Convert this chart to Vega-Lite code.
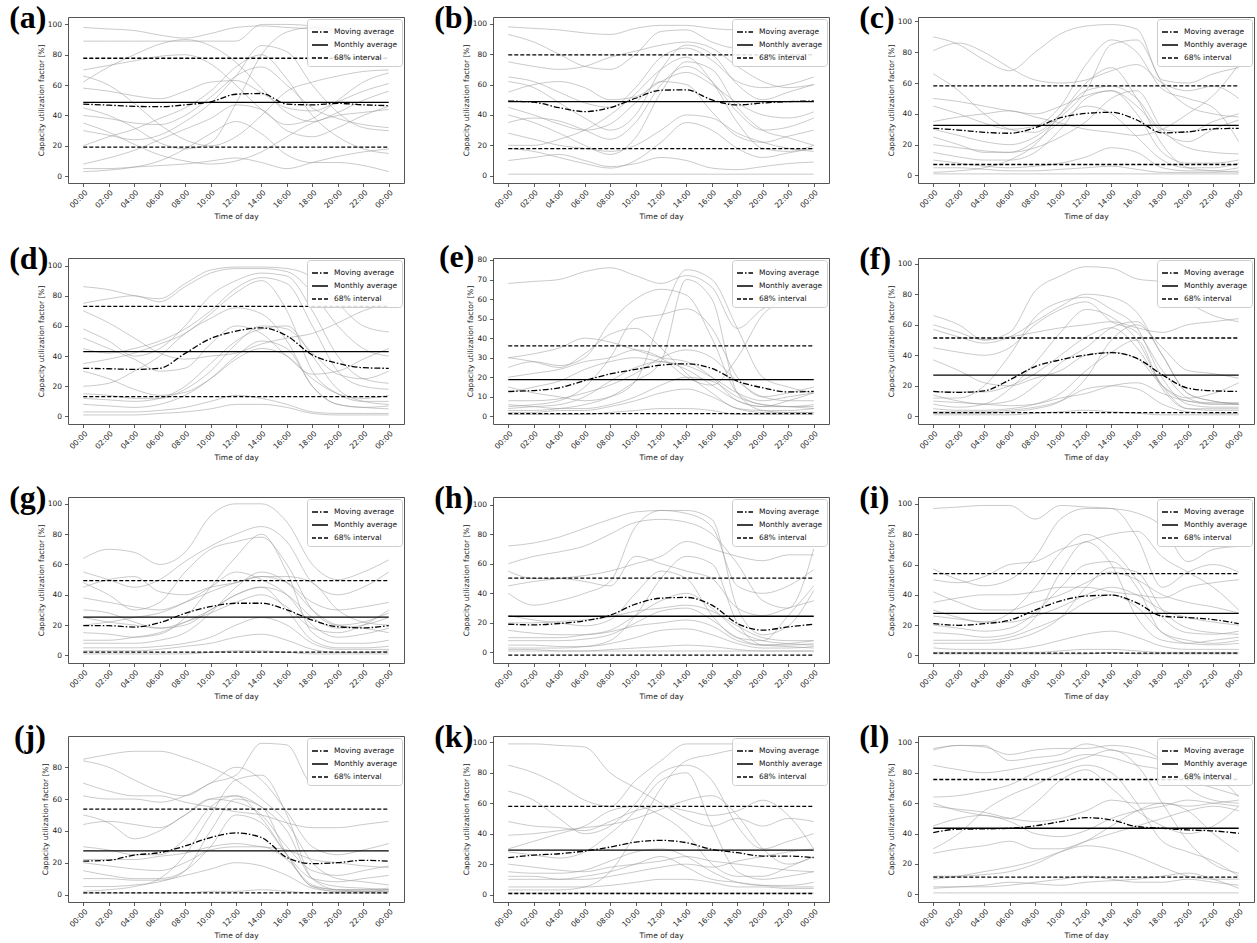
{
"$schema":"https://vega.github.io/schema/vega-lite/v6.json",
"background":"white",
"padding":{"left":8,"top":1,"right":0,"bottom":0},
"data":{"values":[
{"p":"a","k":"A","00":98,"02":97,"04":96,"06":93,"08":91,"10":94,"12":98,"14":99,"16":98,"18":97,"20":96,"22":96,"24":95},
{"p":"a","k":"B","00":89,"02":89,"04":89,"06":89,"08":89,"10":89,"12":89,"14":100,"16":100,"18":99,"20":97,"22":97,"24":97},
{"p":"a","k":"C","00":62,"02":72,"04":80,"06":87,"08":90,"10":86,"12":75,"14":58,"16":42,"18":36,"20":42,"22":50,"24":56},
{"p":"a","k":"D","00":45,"02":40,"04":32,"06":22,"08":18,"10":22,"12":48,"14":80,"16":95,"18":98,"20":96,"22":94,"24":90},
{"p":"a","k":"E","00":30,"02":27,"04":24,"06":27,"08":36,"10":48,"12":66,"14":86,"16":82,"18":60,"20":42,"22":32,"24":30},
{"p":"a","k":"F","00":8,"02":12,"04":17,"06":24,"08":31,"10":38,"12":47,"14":44,"16":30,"18":26,"20":32,"22":40,"24":46},
{"p":"a","k":"G","00":5,"02":5,"04":6,"06":7,"08":8,"10":10,"12":12,"14":9,"16":5,"18":9,"20":13,"22":16,"24":18},
{"p":"a","k":"H","00":66,"02":60,"04":48,"06":34,"08":24,"10":20,"12":26,"14":40,"16":56,"18":62,"20":66,"22":69,"24":70},
{"p":"a","k":"I","00":3,"02":4,"04":6,"06":10,"08":18,"10":28,"12":36,"14":28,"16":14,"18":9,"20":9,"22":7,"24":3},
{"p":"a","k":"J","00":40,"02":38,"04":35,"06":34,"08":40,"10":52,"12":66,"14":72,"16":60,"18":45,"20":38,"22":34,"24":32},
{"p":"a","k":"K","00":20,"02":26,"04":31,"06":38,"08":45,"10":56,"12":72,"14":80,"16":64,"18":40,"20":26,"22":18,"24":15},
{"p":"a","k":"L","00":58,"02":56,"04":53,"06":51,"08":56,"10":62,"12":63,"14":55,"16":45,"18":43,"20":49,"22":56,"24":61},
{"p":"a","k":"M","00":35,"02":29,"04":21,"06":14,"08":10,"10":8,"12":10,"14":16,"16":26,"18":35,"20":40,"22":42,"24":44},
{"p":"a","k":"N","00":70,"02":73,"04":76,"06":79,"08":80,"10":74,"12":60,"14":44,"16":34,"18":38,"20":50,"22":62,"24":68},
{"p":"a","k":"m","00":47.5,"02":46.8,"04":46,"06":45.8,"08":47,"10":49,"12":54,"14":54.5,"16":47.5,"18":47,"20":48,"22":47,"24":46.5},
{"p":"a","k":"avg","00":48.7},{"p":"a","k":"lo","00":19.2},{"p":"a","k":"hi","00":77.7},
{"p":"b","k":"A","00":98,"02":97,"04":96,"06":94,"08":93,"10":97,"12":99,"14":99,"16":97,"18":96,"20":97,"22":98,"24":99},
{"p":"b","k":"B","00":93,"02":88,"04":80,"06":72,"08":70,"10":80,"12":95,"14":96,"16":88,"18":84,"20":86,"22":88,"24":90},
{"p":"b","k":"C","00":62,"02":58,"04":48,"06":38,"08":30,"10":40,"12":70,"14":86,"16":80,"18":60,"20":50,"22":55,"24":60},
{"p":"b","k":"D","00":40,"02":35,"04":28,"06":20,"08":14,"10":25,"12":55,"14":75,"16":70,"18":45,"20":30,"22":25,"24":20},
{"p":"b","k":"E","00":75,"02":72,"04":70,"06":72,"08":78,"10":82,"12":86,"14":88,"16":84,"18":72,"20":62,"22":58,"24":60},
{"p":"b","k":"F","00":28,"02":24,"04":20,"06":18,"08":16,"10":20,"12":30,"14":40,"16":38,"18":28,"20":22,"22":18,"24":16},
{"p":"b","k":"G","00":1,"02":1,"04":1,"06":1,"08":1,"10":1,"12":1,"14":1,"16":1,"18":1,"20":1,"22":1,"24":1},
{"p":"b","k":"H","00":10,"02":12,"04":14,"06":10,"08":6,"10":8,"12":12,"14":10,"16":5,"18":4,"20":6,"22":8,"24":9},
{"p":"b","k":"I","00":55,"02":60,"04":62,"06":58,"08":50,"10":52,"12":62,"14":68,"16":60,"18":48,"20":40,"22":38,"24":42},
{"p":"b","k":"J","00":35,"02":38,"04":36,"06":30,"08":24,"10":35,"12":60,"14":72,"16":62,"18":42,"20":30,"22":32,"24":38},
{"p":"b","k":"K","00":18,"02":16,"04":12,"06":8,"08":5,"10":10,"12":22,"14":35,"16":30,"18":18,"20":12,"22":15,"24":18},
{"p":"b","k":"L","00":65,"02":62,"04":55,"06":48,"08":45,"10":58,"12":78,"14":84,"16":76,"18":62,"20":58,"22":60,"24":65},
{"p":"b","k":"M","00":45,"02":40,"04":34,"06":30,"08":34,"10":48,"12":62,"14":60,"16":42,"18":26,"20":22,"22":26,"24":30},
{"p":"b","k":"N","00":20,"02":20,"04":24,"06":30,"08":40,"10":54,"12":70,"14":78,"16":62,"18":35,"20":18,"22":16,"24":20},
{"p":"b","k":"m","00":49.2,"02":48.4,"04":44.8,"06":42.2,"08":44.8,"10":51,"12":56.3,"14":56.5,"16":49.9,"18":46.6,"20":47.9,"22":48.8,"24":49.2},
{"p":"b","k":"avg","00":48.8},{"p":"b","k":"lo","00":17.8},{"p":"b","k":"hi","00":79.6},
{"p":"c","k":"A","00":90,"02":85,"04":75,"06":68,"08":80,"10":92,"12":97,"14":98,"16":95,"18":62,"20":60,"22":66,"24":70},
{"p":"c","k":"B","00":81,"02":86,"04":80,"06":70,"08":62,"10":60,"12":62,"14":68,"16":72,"18":60,"20":55,"22":58,"24":50},
{"p":"c","k":"C","00":66,"02":55,"04":40,"06":30,"08":28,"10":40,"12":55,"14":58,"16":50,"18":30,"20":28,"22":35,"24":40},
{"p":"c","k":"D","00":50,"02":48,"04":45,"06":42,"08":40,"10":45,"12":52,"14":55,"16":45,"18":28,"20":22,"22":30,"24":36},
{"p":"c","k":"E","00":30,"02":26,"04":22,"06":20,"08":25,"10":38,"12":55,"14":85,"16":88,"18":60,"20":45,"22":40,"24":38},
{"p":"c","k":"F","00":20,"02":18,"04":16,"06":15,"08":18,"10":25,"12":35,"14":50,"16":55,"18":30,"20":18,"22":15,"24":14},
{"p":"c","k":"G","00":10,"02":8,"04":6,"06":5,"08":6,"10":8,"12":12,"14":18,"16":15,"18":5,"20":3,"22":3,"24":5},
{"p":"c","k":"H","00":5,"02":5,"04":4,"06":3,"08":3,"10":4,"12":5,"14":6,"16":4,"18":2,"20":2,"22":2,"24":3},
{"p":"c","k":"I","00":1,"02":1,"04":1,"06":1,"08":1,"10":1,"12":1,"14":1,"16":1,"18":1,"20":1,"22":1,"24":1},
{"p":"c","k":"J","00":15,"02":12,"04":10,"06":10,"08":15,"10":30,"12":50,"14":55,"16":40,"18":15,"20":8,"22":8,"24":10},
{"p":"c","k":"K","00":25,"02":20,"04":15,"06":15,"08":22,"10":35,"12":45,"14":40,"16":25,"18":10,"20":5,"22":5,"24":8},
{"p":"c","k":"L","00":45,"02":40,"04":34,"06":30,"08":32,"10":45,"12":72,"14":88,"16":80,"18":56,"20":50,"22":44,"24":22},
{"p":"c","k":"M","00":2,"02":3,"04":5,"06":10,"08":20,"10":40,"12":60,"14":70,"16":50,"18":20,"20":5,"22":3,"24":2},
{"p":"c","k":"N","00":35,"02":38,"04":40,"06":42,"08":38,"10":34,"12":30,"14":28,"16":26,"18":30,"20":40,"22":52,"24":72},
{"p":"c","k":"m","00":30.6,"02":29.5,"04":28,"06":27.4,"08":31,"10":37.5,"12":40.3,"14":41,"16":36,"18":27.6,"20":28.4,"22":30.2,"24":30.6},
{"p":"c","k":"avg","00":32.5},{"p":"c","k":"lo","00":7.1},{"p":"c","k":"hi","00":58.2},
{"p":"d","k":"A","00":86,"02":84,"04":80,"06":78,"08":88,"10":97,"12":99,"14":99,"16":98,"18":92,"20":75,"22":60,"24":56},
{"p":"d","k":"B","00":75,"02":78,"04":80,"06":76,"08":86,"10":95,"12":98,"14":98,"16":96,"18":82,"20":60,"22":45,"24":40},
{"p":"d","k":"C","00":58,"02":50,"04":40,"06":45,"08":60,"10":80,"12":90,"14":95,"16":93,"18":70,"20":40,"22":25,"24":22},
{"p":"d","k":"D","00":45,"02":42,"04":45,"06":50,"08":58,"10":70,"12":85,"14":92,"16":88,"18":60,"20":30,"22":20,"24":18},
{"p":"d","k":"E","00":35,"02":38,"04":42,"06":48,"08":55,"10":68,"12":82,"14":90,"16":70,"18":30,"20":15,"22":10,"24":10},
{"p":"d","k":"F","00":20,"02":22,"04":30,"06":40,"08":55,"10":65,"12":72,"14":68,"16":50,"18":20,"20":8,"22":6,"24":5},
{"p":"d","k":"G","00":12,"02":11,"04":10,"06":12,"08":20,"10":35,"12":50,"14":58,"16":60,"18":40,"20":18,"22":10,"24":8},
{"p":"d","k":"H","00":3,"02":3,"04":3,"06":4,"08":6,"10":10,"12":14,"14":12,"16":8,"18":3,"20":2,"22":2,"24":2},
{"p":"d","k":"I","00":1,"02":1,"04":1,"06":2,"08":3,"10":5,"12":8,"14":8,"16":6,"18":2,"20":1,"22":1,"24":1},
{"p":"d","k":"J","00":70,"02":62,"04":52,"06":42,"08":38,"10":40,"12":42,"14":48,"16":52,"18":55,"20":62,"22":70,"24":75},
{"p":"d","k":"K","00":30,"02":25,"04":18,"06":14,"08":16,"10":25,"12":38,"14":45,"16":40,"18":25,"20":15,"22":12,"24":14},
{"p":"d","k":"L","00":8,"02":7,"04":6,"06":8,"08":14,"10":25,"12":40,"14":50,"16":45,"18":20,"20":8,"22":6,"24":7},
{"p":"d","k":"M","00":52,"02":45,"04":38,"06":30,"08":32,"10":48,"12":60,"14":55,"16":40,"18":28,"20":30,"22":38,"24":45},
{"p":"d","k":"N","00":15,"02":14,"04":12,"06":12,"08":18,"10":30,"12":48,"14":60,"16":58,"18":42,"20":28,"22":25,"24":30},
{"p":"d","k":"m","00":31.9,"02":31.6,"04":31.2,"06":31.9,"08":41.8,"10":51.6,"12":56.5,"14":58.7,"16":53.4,"18":40.7,"20":35.2,"22":32.3,"24":31.9},
{"p":"d","k":"avg","00":42.9},{"p":"d","k":"lo","00":13.2},{"p":"d","k":"hi","00":73},
{"p":"e","k":"A","00":68,"02":69,"04":70,"06":74,"08":76,"10":72,"12":68,"14":72,"16":66,"18":45,"20":55,"22":60,"24":66},
{"p":"e","k":"B","00":30,"02":32,"04":35,"06":40,"08":38,"10":34,"12":30,"14":28,"16":20,"18":8,"20":5,"22":8,"24":12},
{"p":"e","k":"C","00":25,"02":28,"04":26,"06":30,"08":48,"10":60,"12":65,"14":62,"16":40,"18":12,"20":6,"22":5,"24":4},
{"p":"e","k":"D","00":5,"02":6,"04":8,"06":15,"08":30,"10":50,"12":52,"14":55,"16":45,"18":20,"20":10,"22":12,"24":15},
{"p":"e","k":"E","00":12,"02":15,"04":18,"06":24,"08":28,"10":30,"12":28,"14":26,"16":20,"18":12,"20":8,"22":10,"24":12},
{"p":"e","k":"F","00":3,"02":3,"04":4,"06":6,"08":10,"10":18,"12":28,"14":70,"16":60,"18":12,"20":3,"22":2,"24":2},
{"p":"e","k":"G","00":2,"02":2,"04":3,"06":3,"08":5,"10":8,"12":12,"14":14,"16":10,"18":4,"20":2,"22":2,"24":2},
{"p":"e","k":"H","00":1,"02":1,"04":1,"06":1,"08":2,"10":3,"12":4,"14":4,"16":3,"18":1,"20":1,"22":1,"24":1},
{"p":"e","k":"I","00":8,"02":8,"04":9,"06":12,"08":16,"10":22,"12":30,"14":34,"16":30,"18":18,"20":10,"22":8,"24":8},
{"p":"e","k":"J","00":30,"02":28,"04":25,"06":32,"08":42,"10":45,"12":35,"14":22,"16":12,"18":4,"20":3,"22":3,"24":4},
{"p":"e","k":"K","00":15,"02":12,"04":10,"06":8,"08":10,"10":18,"12":50,"14":75,"16":70,"18":45,"20":20,"22":15,"24":12},
{"p":"e","k":"L","00":4,"02":5,"04":6,"06":10,"08":18,"10":25,"12":28,"14":24,"16":16,"18":8,"20":5,"22":5,"24":6},
{"p":"e","k":"M","00":20,"02":22,"04":24,"06":28,"08":30,"10":34,"12":30,"14":20,"16":16,"18":30,"20":52,"22":60,"24":66},
{"p":"e","k":"N","00":6,"02":5,"04":4,"06":4,"08":6,"10":10,"12":16,"14":20,"16":18,"18":10,"20":6,"22":5,"24":5},
{"p":"e","k":"m","00":12.8,"02":13.2,"04":14.6,"06":18.3,"08":21.7,"10":24,"12":26.2,"14":26.9,"16":24.5,"18":18,"20":14.6,"22":12.5,"24":12.8},
{"p":"e","k":"avg","00":18.8},{"p":"e","k":"lo","00":1.4},{"p":"e","k":"hi","00":36.1},
{"p":"f","k":"A","00":66,"02":60,"04":50,"06":55,"08":82,"10":92,"12":98,"14":97,"16":90,"18":88,"20":75,"22":66,"24":62},
{"p":"f","k":"B","00":57,"02":52,"04":48,"06":52,"08":62,"10":72,"12":80,"14":78,"16":68,"18":40,"20":15,"22":10,"24":8},
{"p":"f","k":"C","00":45,"02":42,"04":40,"06":45,"08":60,"10":70,"12":75,"14":62,"16":55,"18":30,"20":12,"22":8,"24":8},
{"p":"f","k":"D","00":12,"02":12,"04":20,"06":40,"08":65,"10":75,"12":78,"14":70,"16":58,"18":25,"20":8,"22":6,"24":6},
{"p":"f","k":"E","00":8,"02":6,"04":8,"06":18,"08":35,"10":55,"12":70,"14":65,"16":50,"18":20,"20":5,"22":4,"24":4},
{"p":"f","k":"F","00":2,"02":2,"04":2,"06":3,"08":5,"10":10,"12":25,"14":50,"16":60,"18":45,"20":30,"22":28,"24":25},
{"p":"f","k":"G","00":3,"02":3,"04":3,"06":4,"08":6,"10":10,"12":18,"14":20,"16":18,"18":8,"20":3,"22":2,"24":2},
{"p":"f","k":"H","00":1,"02":1,"04":1,"06":1,"08":2,"10":3,"12":4,"14":3,"16":2,"18":1,"20":1,"22":1,"24":1},
{"p":"f","k":"I","00":14,"02":10,"04":8,"06":10,"08":20,"10":35,"12":45,"14":58,"16":62,"18":40,"20":15,"22":10,"24":8},
{"p":"f","k":"J","00":60,"02":55,"04":50,"06":52,"08":55,"10":58,"12":60,"14":62,"16":58,"18":55,"20":60,"22":62,"24":64},
{"p":"f","k":"K","00":5,"02":4,"04":4,"06":5,"08":8,"10":15,"12":30,"14":42,"16":50,"18":18,"20":5,"22":5,"24":5},
{"p":"f","k":"L","00":10,"02":9,"04":8,"06":7,"08":8,"10":12,"12":15,"14":20,"16":22,"18":15,"20":10,"22":9,"24":9},
{"p":"f","k":"M","00":37,"02":30,"04":22,"06":20,"08":25,"10":30,"12":40,"14":42,"16":38,"18":20,"20":12,"22":15,"24":22},
{"p":"f","k":"N","00":16,"02":16,"04":16,"06":20,"08":28,"10":40,"12":52,"14":58,"16":45,"18":20,"20":10,"22":8,"24":8},
{"p":"f","k":"m","00":16.3,"02":15.7,"04":16.7,"06":23.9,"08":32.6,"10":37,"12":40.2,"14":41.7,"16":38,"18":27.2,"20":18.5,"22":16.7,"24":16.3},
{"p":"f","k":"avg","00":27},{"p":"f","k":"lo","00":2.4},{"p":"f","k":"hi","00":51.3},
{"p":"g","k":"A","00":64,"02":70,"04":68,"06":60,"08":68,"10":92,"12":100,"14":100,"16":88,"18":60,"20":50,"22":55,"24":63},
{"p":"g","k":"B","00":55,"02":50,"04":45,"06":50,"08":62,"10":72,"12":80,"14":85,"16":75,"18":48,"20":40,"22":45,"24":55},
{"p":"g","k":"C","00":48,"02":40,"04":30,"06":35,"08":55,"10":70,"12":75,"14":78,"16":60,"18":30,"20":20,"22":22,"24":28},
{"p":"g","k":"D","00":38,"02":35,"04":32,"06":30,"08":35,"10":42,"12":48,"14":52,"16":48,"18":35,"20":30,"22":32,"24":35},
{"p":"g","k":"E","00":20,"02":22,"04":25,"06":28,"08":35,"10":45,"12":55,"14":50,"16":40,"18":20,"20":12,"22":14,"24":18},
{"p":"g","k":"F","00":10,"02":10,"04":12,"06":15,"08":22,"10":30,"12":40,"14":45,"16":30,"18":10,"20":5,"22":5,"24":6},
{"p":"g","k":"G","00":5,"02":5,"04":5,"06":6,"08":8,"10":12,"12":20,"14":25,"16":20,"18":8,"20":4,"22":4,"24":4},
{"p":"g","k":"H","00":1,"02":1,"04":1,"06":1,"08":1,"10":2,"12":3,"14":3,"16":2,"18":1,"20":1,"22":1,"24":1},
{"p":"g","k":"I","00":30,"02":28,"04":22,"06":18,"08":20,"10":30,"12":40,"14":45,"16":40,"18":25,"20":18,"22":20,"24":25},
{"p":"g","k":"J","00":15,"02":14,"04":12,"06":14,"08":25,"10":45,"12":65,"14":80,"16":55,"18":15,"20":8,"22":8,"24":10},
{"p":"g","k":"K","00":45,"02":50,"04":52,"06":42,"08":40,"10":45,"12":48,"14":52,"16":52,"18":48,"20":30,"22":22,"24":20},
{"p":"g","k":"L","00":3,"02":3,"04":3,"06":4,"08":6,"10":8,"12":12,"14":14,"16":10,"18":4,"20":2,"22":2,"24":3},
{"p":"g","k":"M","00":25,"02":22,"04":20,"06":18,"08":22,"10":28,"12":35,"14":40,"16":32,"18":18,"20":15,"22":20,"24":30},
{"p":"g","k":"N","00":8,"02":8,"04":8,"06":10,"08":15,"10":28,"12":45,"14":55,"16":48,"18":30,"20":20,"22":18,"24":15},
{"p":"g","k":"m","00":19.6,"02":19.6,"04":18.7,"06":21.6,"08":27.8,"10":32.2,"12":34.4,"14":34.4,"16":30,"18":23.3,"20":18.9,"22":18.2,"24":19.6},
{"p":"g","k":"avg","00":25.3},{"p":"g","k":"lo","00":2.2},{"p":"g","k":"hi","00":49.3},
{"p":"h","k":"A","00":72,"02":74,"04":78,"06":84,"08":90,"10":95,"12":96,"14":94,"16":85,"18":45,"20":40,"22":45,"24":56},
{"p":"h","k":"B","00":60,"02":65,"04":68,"06":72,"08":80,"10":88,"12":90,"14":88,"16":80,"18":60,"20":35,"22":30,"24":70},
{"p":"h","k":"C","00":45,"02":48,"04":50,"06":52,"08":55,"10":60,"12":65,"14":75,"16":70,"18":65,"20":62,"22":66,"24":66},
{"p":"h","k":"D","00":40,"02":32,"04":35,"06":40,"08":48,"10":85,"12":96,"14":96,"16":90,"18":30,"20":12,"22":18,"24":42},
{"p":"h","k":"E","00":25,"02":22,"04":20,"06":18,"08":22,"10":40,"12":55,"14":50,"16":25,"18":10,"20":8,"22":25,"24":45},
{"p":"h","k":"F","00":15,"02":13,"04":12,"06":12,"08":14,"10":18,"12":20,"14":22,"16":18,"18":8,"20":5,"22":6,"24":8},
{"p":"h","k":"G","00":5,"02":5,"04":4,"06":4,"08":6,"10":10,"12":15,"14":16,"16":12,"18":6,"20":3,"22":3,"24":4},
{"p":"h","k":"H","00":2,"02":2,"04":1,"06":1,"08":2,"10":3,"12":4,"14":5,"16":4,"18":2,"20":1,"22":1,"24":1},
{"p":"h","k":"I","00":1,"02":1,"04":1,"06":1,"08":1,"10":1,"12":1,"14":1,"16":1,"18":1,"20":1,"22":1,"24":1},
{"p":"h","k":"J","00":55,"02":50,"04":50,"06":48,"08":45,"10":65,"12":60,"14":55,"16":50,"18":30,"20":25,"22":30,"24":35},
{"p":"h","k":"K","00":10,"02":10,"04":10,"06":12,"08":15,"10":25,"12":35,"14":40,"16":30,"18":15,"20":8,"22":6,"24":5},
{"p":"h","k":"L","00":20,"02":20,"04":21,"06":22,"08":24,"10":28,"12":30,"14":32,"16":28,"18":18,"20":10,"22":8,"24":8},
{"p":"h","k":"M","00":8,"02":8,"04":8,"06":9,"08":12,"10":20,"12":28,"14":30,"16":22,"18":10,"20":5,"22":5,"24":6},
{"p":"h","k":"N","00":3,"02":3,"04":3,"06":4,"08":8,"10":25,"12":50,"14":65,"16":60,"18":20,"20":5,"22":4,"24":3},
{"p":"h","k":"m","00":19.1,"02":18.7,"04":19.6,"06":21.4,"08":25.2,"10":32.7,"12":36.7,"14":37.2,"16":32,"18":19.6,"20":15.1,"22":17.3,"24":19.1},
{"p":"h","k":"avg","00":24.5},{"p":"h","k":"lo","00":-1.8},{"p":"h","k":"hi","00":50.2},
{"p":"i","k":"A","00":97,"02":98,"04":99,"06":99,"08":90,"10":99,"12":98,"14":97,"16":94,"18":85,"20":62,"22":70,"24":72},
{"p":"i","k":"B","00":57,"02":50,"04":46,"06":50,"08":65,"10":90,"12":97,"14":97,"16":78,"18":45,"20":55,"22":60,"24":55},
{"p":"i","k":"C","00":50,"02":48,"04":52,"06":60,"08":62,"10":70,"12":75,"14":80,"16":82,"18":65,"20":55,"22":45,"24":30},
{"p":"i","k":"D","00":30,"02":25,"04":22,"06":28,"08":45,"10":68,"12":80,"14":70,"16":50,"18":25,"20":15,"22":14,"24":16},
{"p":"i","k":"E","00":20,"02":18,"04":16,"06":18,"08":28,"10":45,"12":60,"14":62,"16":45,"18":15,"20":10,"22":8,"24":10},
{"p":"i","k":"F","00":10,"02":10,"04":10,"06":12,"08":18,"10":25,"12":35,"14":40,"16":32,"18":15,"20":8,"22":7,"24":8},
{"p":"i","k":"G","00":5,"02":4,"04":4,"06":4,"08":6,"10":10,"12":14,"14":16,"16":12,"18":6,"20":4,"22":4,"24":4},
{"p":"i","k":"H","00":2,"02":2,"04":2,"06":2,"08":2,"10":3,"12":4,"14":4,"16":3,"18":2,"20":2,"22":2,"24":2},
{"p":"i","k":"I","00":1,"02":1,"04":1,"06":1,"08":1,"10":1,"12":1,"14":2,"16":1,"18":1,"20":1,"22":1,"24":1},
{"p":"i","k":"J","00":15,"02":14,"04":12,"06":14,"08":25,"10":55,"12":75,"14":60,"16":25,"18":10,"20":8,"22":10,"24":12},
{"p":"i","k":"K","00":42,"02":35,"04":30,"06":30,"08":35,"10":40,"12":48,"14":55,"16":50,"18":40,"20":35,"22":32,"24":28},
{"p":"i","k":"L","00":26,"02":24,"04":22,"06":22,"08":26,"10":32,"12":40,"14":45,"16":40,"18":30,"20":25,"22":22,"24":20},
{"p":"i","k":"M","00":8,"02":8,"04":8,"06":10,"08":15,"10":25,"12":45,"14":58,"16":55,"18":30,"20":18,"22":15,"24":14},
{"p":"i","k":"N","00":35,"02":38,"04":40,"06":40,"08":42,"10":45,"12":45,"14":42,"16":40,"18":38,"20":45,"22":48,"24":50},
{"p":"i","k":"m","00":21,"02":19.9,"04":21,"06":23.2,"08":29.9,"10":36,"12":39.2,"14":39.8,"16":34.7,"18":25.9,"20":25,"22":23.7,"24":21},
{"p":"i","k":"avg","00":27.7},{"p":"i","k":"lo","00":1.5},{"p":"i","k":"hi","00":54},
{"p":"j","k":"A","00":85,"02":88,"04":90,"06":90,"08":86,"10":80,"12":72,"14":60,"16":45,"18":20,"20":10,"22":8,"24":6},
{"p":"j","k":"B","00":84,"02":80,"04":72,"06":65,"08":62,"10":70,"12":75,"14":95,"16":94,"18":70,"20":80,"22":85,"24":92},
{"p":"j","k":"C","00":70,"02":65,"04":62,"06":62,"08":58,"10":55,"12":52,"14":50,"16":45,"18":42,"20":42,"22":44,"24":46},
{"p":"j","k":"D","00":62,"02":60,"04":60,"06":58,"08":62,"10":70,"12":80,"14":72,"16":52,"18":30,"20":25,"22":28,"24":32},
{"p":"j","k":"E","00":44,"02":46,"04":44,"06":42,"08":50,"10":60,"12":62,"14":55,"16":40,"18":10,"20":5,"22":4,"24":3},
{"p":"j","k":"F","00":30,"02":28,"04":25,"06":25,"08":35,"10":55,"12":62,"14":48,"16":25,"18":5,"20":3,"22":2,"24":2},
{"p":"j","k":"G","00":20,"02":18,"04":16,"06":15,"08":20,"10":28,"12":30,"14":30,"16":22,"18":6,"20":3,"22":3,"24":3},
{"p":"j","k":"H","00":10,"02":10,"04":9,"06":9,"08":12,"10":16,"12":20,"14":18,"16":12,"18":4,"20":2,"22":2,"24":2},
{"p":"j","k":"I","00":1,"02":1,"04":1,"06":1,"08":1,"10":2,"12":2,"14":3,"16":2,"18":1,"20":1,"22":1,"24":1},
{"p":"j","k":"J","00":5,"02":5,"04":6,"06":8,"08":15,"10":40,"12":60,"14":55,"16":25,"18":5,"20":2,"22":2,"24":3},
{"p":"j","k":"K","00":15,"02":12,"04":10,"06":10,"08":15,"10":30,"12":50,"14":45,"16":25,"18":10,"20":8,"22":10,"24":12},
{"p":"j","k":"L","00":50,"02":45,"04":35,"06":40,"08":50,"10":60,"12":58,"14":50,"16":30,"18":15,"20":12,"22":15,"24":18},
{"p":"j","k":"M","00":22,"02":22,"04":22,"06":24,"08":26,"10":30,"12":32,"14":30,"16":28,"18":22,"20":20,"22":18,"24":17},
{"p":"j","k":"N","00":2,"02":3,"04":5,"06":10,"08":25,"10":50,"12":72,"14":75,"16":50,"18":10,"20":3,"22":3,"24":4},
{"p":"j","k":"m","00":21,"02":21.5,"04":24.8,"06":26.3,"08":30.5,"10":35.8,"12":38.7,"14":35.8,"16":23.2,"18":19.4,"20":20,"22":21.5,"24":21},
{"p":"j","k":"avg","00":27.4},{"p":"j","k":"lo","00":1},{"p":"j","k":"hi","00":53.7},
{"p":"k","k":"A","00":99,"02":99,"04":98,"06":97,"08":80,"10":70,"12":60,"14":50,"16":45,"18":50,"20":45,"22":50,"24":48},
{"p":"k","k":"B","00":85,"02":80,"04":72,"06":62,"08":58,"10":75,"12":88,"14":99,"16":99,"18":99,"20":97,"22":96,"24":95},
{"p":"k","k":"C","00":68,"02":62,"04":50,"06":40,"08":45,"10":60,"12":80,"14":85,"16":75,"18":45,"20":30,"22":35,"24":40},
{"p":"k","k":"D","00":48,"02":45,"04":44,"06":42,"08":48,"10":55,"12":58,"14":55,"16":52,"18":55,"20":62,"22":52,"24":30},
{"p":"k","k":"E","00":39,"02":40,"04":42,"06":44,"08":46,"10":50,"12":56,"14":62,"16":65,"18":52,"20":30,"22":20,"24":25},
{"p":"k","k":"F","00":28,"02":26,"04":24,"06":28,"08":40,"10":55,"12":75,"14":80,"16":45,"18":15,"20":10,"22":12,"24":15},
{"p":"k","k":"G","00":20,"02":18,"04":16,"06":15,"08":18,"10":20,"12":22,"14":25,"16":22,"18":20,"20":18,"22":16,"24":15},
{"p":"k","k":"H","00":10,"02":10,"04":10,"06":12,"08":15,"10":20,"12":25,"14":18,"16":10,"18":8,"20":6,"22":5,"24":5},
{"p":"k","k":"I","00":5,"02":5,"04":5,"06":5,"08":6,"10":8,"12":10,"14":10,"16":8,"18":5,"20":5,"22":4,"24":4},
{"p":"k","k":"J","00":1,"02":1,"04":1,"06":1,"08":1,"10":1,"12":1,"14":1,"16":1,"18":1,"20":1,"22":1,"24":1},
{"p":"k","k":"K","00":3,"02":3,"04":3,"06":5,"08":15,"10":40,"12":70,"14":88,"16":92,"18":95,"20":95,"22":92,"24":88},
{"p":"k","k":"L","00":15,"02":14,"04":14,"06":16,"08":22,"10":28,"12":30,"14":25,"16":15,"18":8,"20":6,"22":6,"24":8},
{"p":"k","k":"M","00":30,"02":35,"04":40,"06":45,"08":55,"10":58,"12":52,"14":40,"16":20,"18":12,"20":12,"22":18,"24":25},
{"p":"k","k":"N","00":12,"02":12,"04":10,"06":10,"08":12,"10":15,"12":18,"14":20,"16":18,"18":22,"20":25,"22":28,"24":30},
{"p":"k","k":"m","00":24.2,"02":25.9,"04":26.8,"06":28.6,"08":31.2,"10":34.5,"12":35.6,"14":34.1,"16":29.7,"18":27.5,"20":25.3,"22":25.3,"24":24.2},
{"p":"k","k":"avg","00":29.2},{"p":"k","k":"lo","00":0.7},{"p":"k","k":"hi","00":58},
{"p":"l","k":"A","00":96,"02":98,"04":98,"06":88,"08":90,"10":92,"12":99,"14":95,"16":92,"18":88,"20":80,"22":78,"24":64},
{"p":"l","k":"B","00":95,"02":98,"04":97,"06":92,"08":95,"10":96,"12":96,"14":98,"16":96,"18":88,"20":70,"22":62,"24":60},
{"p":"l","k":"C","00":85,"02":82,"04":80,"06":82,"08":85,"10":88,"12":92,"14":90,"16":85,"18":82,"20":75,"22":70,"24":65},
{"p":"l","k":"D","00":64,"02":65,"04":68,"06":72,"08":80,"10":85,"12":90,"14":95,"16":85,"18":60,"20":35,"22":20,"24":14},
{"p":"l","k":"E","00":60,"02":55,"04":52,"06":50,"08":60,"10":75,"12":82,"14":70,"16":55,"18":45,"20":40,"22":45,"24":58},
{"p":"l","k":"F","00":58,"02":56,"04":54,"06":50,"08":48,"10":50,"12":55,"14":62,"16":60,"18":60,"20":58,"22":60,"24":62},
{"p":"l","k":"G","00":45,"02":50,"04":52,"06":48,"08":40,"10":38,"12":42,"14":50,"16":55,"18":58,"20":62,"22":60,"24":58},
{"p":"l","k":"H","00":30,"02":40,"04":55,"06":65,"08":72,"10":80,"12":85,"14":80,"16":60,"18":35,"20":28,"22":22,"24":12},
{"p":"l","k":"I","00":27,"02":30,"04":32,"06":35,"08":30,"10":30,"12":35,"14":40,"16":45,"18":50,"20":55,"22":58,"24":55},
{"p":"l","k":"J","00":12,"02":12,"04":13,"06":15,"08":20,"10":28,"12":35,"14":45,"16":55,"18":60,"20":55,"22":40,"24":28},
{"p":"l","k":"K","00":10,"02":12,"04":15,"06":18,"08":22,"10":28,"12":32,"14":30,"16":25,"18":18,"20":12,"22":10,"24":10},
{"p":"l","k":"L","00":5,"02":5,"04":5,"06":6,"08":8,"10":10,"12":12,"14":10,"16":8,"18":8,"20":10,"22":8,"24":6},
{"p":"l","k":"M","00":1,"02":1,"04":1,"06":1,"08":1,"10":1,"12":1,"14":1,"16":1,"18":1,"20":1,"22":1,"24":1},
{"p":"l","k":"N","00":4,"02":5,"04":6,"06":8,"08":7,"10":6,"12":8,"14":9,"16":10,"18":12,"20":14,"22":10,"24":4},
{"p":"l","k":"m","00":40.7,"02":42.9,"04":43.1,"06":43.5,"08":45.1,"10":47.9,"12":50.5,"14":49,"16":44.6,"18":43.5,"20":42.4,"22":41.8,"24":40.2},
{"p":"l","k":"avg","00":43.5},{"p":"l","k":"lo","00":11.4},{"p":"l","k":"hi","00":75.6}
]},
"transform":[{"fold":["00","02","04","06","08","10","12","14","16","18","20","22","24"],"as":["key","v"]}],
"columns":3,
"spacing":{"row":19,"column":28},
"resolve":{"scale":{"strokeDash":"independent"},"legend":{"strokeDash":"independent"}},
"concat":[
{"title":"(a)","width":336,"height":166,"transform":[{"filter":"datum.p=='a'"}],"encoding":{"x":{"field":"key","type":"quantitative","scale":{"domain":[-1.2,25.2],"nice":false},"axis":{"values":[0,2,4,6,8,10,12,14,16,18,20,22,24],"labelExpr":"utcFormat(datum.value*3600000,'%H:%M')"},"title":"Time of day"},"y":{"field":"v","type":"quantitative","scale":{"domain":[-4.5,104.9],"nice":false},"title":"Capacity utilization factor [%]"}},
"layer":[
{"transform":[{"filter":"datum.k<'a'"}],"mark":{"type":"line","stroke":"#999","strokeWidth":0.8,"opacity":0.65},"encoding":{"detail":{"field":"k"}}},
{"transform":[{"filter":"datum.k=='m'"}],"mark":"line","encoding":{"strokeDash":{"datum":"Moving average","scale":{"domain":["Moving average","Monthly average","68% interval"],"range":[[6,2,1.5,2],[1,0],[4,2]]},"legend":{"title":null}}}},
{"transform":[{"filter":"datum.k=='avg'&&datum.v!=null"}],"mark":"rule","encoding":{"x":{"datum":0},"x2":{"datum":24},"strokeDash":{"datum":"Monthly average"}}},
{"transform":[{"filter":"(datum.k=='lo'||datum.k=='hi')&&datum.v!=null"}],"mark":"rule","encoding":{"x":{"datum":0},"x2":{"datum":24},"strokeDash":{"datum":"68% interval"}}}]},
{"title":"(b)","width":336,"height":166,"transform":[{"filter":"datum.p=='b'"}],"encoding":{"x":{"field":"key","type":"quantitative","scale":{"domain":[-1.2,25.2],"nice":false},"axis":{"values":[0,2,4,6,8,10,12,14,16,18,20,22,24],"labelExpr":"utcFormat(datum.value*3600000,'%H:%M')"},"title":"Time of day"},"y":{"field":"v","type":"quantitative","scale":{"domain":[-4.8,104.5],"nice":false},"title":"Capacity utilization factor [%]"}},
"layer":[
{"transform":[{"filter":"datum.k<'a'"}],"mark":{"type":"line","stroke":"#999","strokeWidth":0.8,"opacity":0.65},"encoding":{"detail":{"field":"k"}}},
{"transform":[{"filter":"datum.k=='m'"}],"mark":"line","encoding":{"strokeDash":{"datum":"Moving average","scale":{"domain":["Moving average","Monthly average","68% interval"],"range":[[6,2,1.5,2],[1,0],[4,2]]},"legend":{"title":null}}}},
{"transform":[{"filter":"datum.k=='avg'&&datum.v!=null"}],"mark":"rule","encoding":{"x":{"datum":0},"x2":{"datum":24},"strokeDash":{"datum":"Monthly average"}}},
{"transform":[{"filter":"(datum.k=='lo'||datum.k=='hi')&&datum.v!=null"}],"mark":"rule","encoding":{"x":{"datum":0},"x2":{"datum":24},"strokeDash":{"datum":"68% interval"}}}]},
{"title":"(c)","width":336,"height":166,"transform":[{"filter":"datum.p=='c'"}],"encoding":{"x":{"field":"key","type":"quantitative","scale":{"domain":[-1.2,25.2],"nice":false},"axis":{"values":[0,2,4,6,8,10,12,14,16,18,20,22,24],"labelExpr":"utcFormat(datum.value*3600000,'%H:%M')"},"title":"Time of day"},"y":{"field":"v","type":"quantitative","scale":{"domain":[-4.9,102.9],"nice":false},"title":"Capacity utilization factor [%]"}},
"layer":[
{"transform":[{"filter":"datum.k<'a'"}],"mark":{"type":"line","stroke":"#999","strokeWidth":0.8,"opacity":0.65},"encoding":{"detail":{"field":"k"}}},
{"transform":[{"filter":"datum.k=='m'"}],"mark":"line","encoding":{"strokeDash":{"datum":"Moving average","scale":{"domain":["Moving average","Monthly average","68% interval"],"range":[[6,2,1.5,2],[1,0],[4,2]]},"legend":{"title":null}}}},
{"transform":[{"filter":"datum.k=='avg'&&datum.v!=null"}],"mark":"rule","encoding":{"x":{"datum":0},"x2":{"datum":24},"strokeDash":{"datum":"Monthly average"}}},
{"transform":[{"filter":"(datum.k=='lo'||datum.k=='hi')&&datum.v!=null"}],"mark":"rule","encoding":{"x":{"datum":0},"x2":{"datum":24},"strokeDash":{"datum":"68% interval"}}}]},
{"title":"(d)","width":336,"height":166,"transform":[{"filter":"datum.p=='d'"}],"encoding":{"x":{"field":"key","type":"quantitative","scale":{"domain":[-1.2,25.2],"nice":false},"axis":{"values":[0,2,4,6,8,10,12,14,16,18,20,22,24],"labelExpr":"utcFormat(datum.value*3600000,'%H:%M')"},"title":"Time of day"},"y":{"field":"v","type":"quantitative","scale":{"domain":[-5,105],"nice":false},"title":"Capacity utilization factor [%]"}},
"layer":[
{"transform":[{"filter":"datum.k<'a'"}],"mark":{"type":"line","stroke":"#999","strokeWidth":0.8,"opacity":0.65},"encoding":{"detail":{"field":"k"}}},
{"transform":[{"filter":"datum.k=='m'"}],"mark":"line","encoding":{"strokeDash":{"datum":"Moving average","scale":{"domain":["Moving average","Monthly average","68% interval"],"range":[[6,2,1.5,2],[1,0],[4,2]]},"legend":{"title":null}}}},
{"transform":[{"filter":"datum.k=='avg'&&datum.v!=null"}],"mark":"rule","encoding":{"x":{"datum":0},"x2":{"datum":24},"strokeDash":{"datum":"Monthly average"}}},
{"transform":[{"filter":"(datum.k=='lo'||datum.k=='hi')&&datum.v!=null"}],"mark":"rule","encoding":{"x":{"datum":0},"x2":{"datum":24},"strokeDash":{"datum":"68% interval"}}}]},
{"title":"(e)","width":336,"height":166,"transform":[{"filter":"datum.p=='e'"}],"encoding":{"x":{"field":"key","type":"quantitative","scale":{"domain":[-1.2,25.2],"nice":false},"axis":{"values":[0,2,4,6,8,10,12,14,16,18,20,22,24],"labelExpr":"utcFormat(datum.value*3600000,'%H:%M')"},"title":"Time of day"},"y":{"field":"v","type":"quantitative","scale":{"domain":[-3.9,81],"nice":false},"axis":{"values":[0,10,20,30,40,50,60,70,80]},"title":"Capacity utilization factor [%]"}},
"layer":[
{"transform":[{"filter":"datum.k<'a'"}],"mark":{"type":"line","stroke":"#999","strokeWidth":0.8,"opacity":0.65},"encoding":{"detail":{"field":"k"}}},
{"transform":[{"filter":"datum.k=='m'"}],"mark":"line","encoding":{"strokeDash":{"datum":"Moving average","scale":{"domain":["Moving average","Monthly average","68% interval"],"range":[[6,2,1.5,2],[1,0],[4,2]]},"legend":{"title":null}}}},
{"transform":[{"filter":"datum.k=='avg'&&datum.v!=null"}],"mark":"rule","encoding":{"x":{"datum":0},"x2":{"datum":24},"strokeDash":{"datum":"Monthly average"}}},
{"transform":[{"filter":"(datum.k=='lo'||datum.k=='hi')&&datum.v!=null"}],"mark":"rule","encoding":{"x":{"datum":0},"x2":{"datum":24},"strokeDash":{"datum":"68% interval"}}}]},
{"title":"(f)","width":336,"height":166,"transform":[{"filter":"datum.p=='f'"}],"encoding":{"x":{"field":"key","type":"quantitative","scale":{"domain":[-1.2,25.2],"nice":false},"axis":{"values":[0,2,4,6,8,10,12,14,16,18,20,22,24],"labelExpr":"utcFormat(datum.value*3600000,'%H:%M')"},"title":"Time of day"},"y":{"field":"v","type":"quantitative","scale":{"domain":[-5,103.7],"nice":false},"title":"Capacity utilization factor [%]"}},
"layer":[
{"transform":[{"filter":"datum.k<'a'"}],"mark":{"type":"line","stroke":"#999","strokeWidth":0.8,"opacity":0.65},"encoding":{"detail":{"field":"k"}}},
{"transform":[{"filter":"datum.k=='m'"}],"mark":"line","encoding":{"strokeDash":{"datum":"Moving average","scale":{"domain":["Moving average","Monthly average","68% interval"],"range":[[6,2,1.5,2],[1,0],[4,2]]},"legend":{"title":null}}}},
{"transform":[{"filter":"datum.k=='avg'&&datum.v!=null"}],"mark":"rule","encoding":{"x":{"datum":0},"x2":{"datum":24},"strokeDash":{"datum":"Monthly average"}}},
{"transform":[{"filter":"(datum.k=='lo'||datum.k=='hi')&&datum.v!=null"}],"mark":"rule","encoding":{"x":{"datum":0},"x2":{"datum":24},"strokeDash":{"datum":"68% interval"}}}]},
{"title":"(g)","width":336,"height":166,"transform":[{"filter":"datum.p=='g'"}],"encoding":{"x":{"field":"key","type":"quantitative","scale":{"domain":[-1.2,25.2],"nice":false},"axis":{"values":[0,2,4,6,8,10,12,14,16,18,20,22,24],"labelExpr":"utcFormat(datum.value*3600000,'%H:%M')"},"title":"Time of day"},"y":{"field":"v","type":"quantitative","scale":{"domain":[-5,104.5],"nice":false},"title":"Capacity utilization factor [%]"}},
"layer":[
{"transform":[{"filter":"datum.k<'a'"}],"mark":{"type":"line","stroke":"#999","strokeWidth":0.8,"opacity":0.65},"encoding":{"detail":{"field":"k"}}},
{"transform":[{"filter":"datum.k=='m'"}],"mark":"line","encoding":{"strokeDash":{"datum":"Moving average","scale":{"domain":["Moving average","Monthly average","68% interval"],"range":[[6,2,1.5,2],[1,0],[4,2]]},"legend":{"title":null}}}},
{"transform":[{"filter":"datum.k=='avg'&&datum.v!=null"}],"mark":"rule","encoding":{"x":{"datum":0},"x2":{"datum":24},"strokeDash":{"datum":"Monthly average"}}},
{"transform":[{"filter":"(datum.k=='lo'||datum.k=='hi')&&datum.v!=null"}],"mark":"rule","encoding":{"x":{"datum":0},"x2":{"datum":24},"strokeDash":{"datum":"68% interval"}}}]},
{"title":"(h)","width":336,"height":166,"transform":[{"filter":"datum.p=='h'"}],"encoding":{"x":{"field":"key","type":"quantitative","scale":{"domain":[-1.2,25.2],"nice":false},"axis":{"values":[0,2,4,6,8,10,12,14,16,18,20,22,24],"labelExpr":"utcFormat(datum.value*3600000,'%H:%M')"},"title":"Time of day"},"y":{"field":"v","type":"quantitative","scale":{"domain":[-7.1,105.1],"nice":false},"title":"Capacity utilization factor [%]"}},
"layer":[
{"transform":[{"filter":"datum.k<'a'"}],"mark":{"type":"line","stroke":"#999","strokeWidth":0.8,"opacity":0.65},"encoding":{"detail":{"field":"k"}}},
{"transform":[{"filter":"datum.k=='m'"}],"mark":"line","encoding":{"strokeDash":{"datum":"Moving average","scale":{"domain":["Moving average","Monthly average","68% interval"],"range":[[6,2,1.5,2],[1,0],[4,2]]},"legend":{"title":null}}}},
{"transform":[{"filter":"datum.k=='avg'&&datum.v!=null"}],"mark":"rule","encoding":{"x":{"datum":0},"x2":{"datum":24},"strokeDash":{"datum":"Monthly average"}}},
{"transform":[{"filter":"(datum.k=='lo'||datum.k=='hi')&&datum.v!=null"}],"mark":"rule","encoding":{"x":{"datum":0},"x2":{"datum":24},"strokeDash":{"datum":"68% interval"}}}]},
{"title":"(i)","width":336,"height":166,"transform":[{"filter":"datum.p=='i'"}],"encoding":{"x":{"field":"key","type":"quantitative","scale":{"domain":[-1.2,25.2],"nice":false},"axis":{"values":[0,2,4,6,8,10,12,14,16,18,20,22,24],"labelExpr":"utcFormat(datum.value*3600000,'%H:%M')"},"title":"Time of day"},"y":{"field":"v","type":"quantitative","scale":{"domain":[-5,104.6],"nice":false},"title":"Capacity utilization factor [%]"}},
"layer":[
{"transform":[{"filter":"datum.k<'a'"}],"mark":{"type":"line","stroke":"#999","strokeWidth":0.8,"opacity":0.65},"encoding":{"detail":{"field":"k"}}},
{"transform":[{"filter":"datum.k=='m'"}],"mark":"line","encoding":{"strokeDash":{"datum":"Moving average","scale":{"domain":["Moving average","Monthly average","68% interval"],"range":[[6,2,1.5,2],[1,0],[4,2]]},"legend":{"title":null}}}},
{"transform":[{"filter":"datum.k=='avg'&&datum.v!=null"}],"mark":"rule","encoding":{"x":{"datum":0},"x2":{"datum":24},"strokeDash":{"datum":"Monthly average"}}},
{"transform":[{"filter":"(datum.k=='lo'||datum.k=='hi')&&datum.v!=null"}],"mark":"rule","encoding":{"x":{"datum":0},"x2":{"datum":24},"strokeDash":{"datum":"68% interval"}}}]},
{"title":"(j)","width":336,"height":166,"transform":[{"filter":"datum.p=='j'"}],"encoding":{"x":{"field":"key","type":"quantitative","scale":{"domain":[-1.2,25.2],"nice":false},"axis":{"values":[0,2,4,6,8,10,12,14,16,18,20,22,24],"labelExpr":"utcFormat(datum.value*3600000,'%H:%M')"},"title":"Time of day"},"y":{"field":"v","type":"quantitative","scale":{"domain":[-4.7,99.6],"nice":false},"axis":{"values":[0,20,40,60,80]},"title":"Capacity utilization factor [%]"}},
"layer":[
{"transform":[{"filter":"datum.k<'a'"}],"mark":{"type":"line","stroke":"#999","strokeWidth":0.8,"opacity":0.65},"encoding":{"detail":{"field":"k"}}},
{"transform":[{"filter":"datum.k=='m'"}],"mark":"line","encoding":{"strokeDash":{"datum":"Moving average","scale":{"domain":["Moving average","Monthly average","68% interval"],"range":[[6,2,1.5,2],[1,0],[4,2]]},"legend":{"title":null}}}},
{"transform":[{"filter":"datum.k=='avg'&&datum.v!=null"}],"mark":"rule","encoding":{"x":{"datum":0},"x2":{"datum":24},"strokeDash":{"datum":"Monthly average"}}},
{"transform":[{"filter":"(datum.k=='lo'||datum.k=='hi')&&datum.v!=null"}],"mark":"rule","encoding":{"x":{"datum":0},"x2":{"datum":24},"strokeDash":{"datum":"68% interval"}}}]},
{"title":"(k)","width":336,"height":166,"transform":[{"filter":"datum.p=='k'"}],"encoding":{"x":{"field":"key","type":"quantitative","scale":{"domain":[-1.2,25.2],"nice":false},"axis":{"values":[0,2,4,6,8,10,12,14,16,18,20,22,24],"labelExpr":"utcFormat(datum.value*3600000,'%H:%M')"},"title":"Time of day"},"y":{"field":"v","type":"quantitative","scale":{"domain":[-4.9,104.2],"nice":false},"title":"Capacity utilization factor [%]"}},
"layer":[
{"transform":[{"filter":"datum.k<'a'"}],"mark":{"type":"line","stroke":"#999","strokeWidth":0.8,"opacity":0.65},"encoding":{"detail":{"field":"k"}}},
{"transform":[{"filter":"datum.k=='m'"}],"mark":"line","encoding":{"strokeDash":{"datum":"Moving average","scale":{"domain":["Moving average","Monthly average","68% interval"],"range":[[6,2,1.5,2],[1,0],[4,2]]},"legend":{"title":null}}}},
{"transform":[{"filter":"datum.k=='avg'&&datum.v!=null"}],"mark":"rule","encoding":{"x":{"datum":0},"x2":{"datum":24},"strokeDash":{"datum":"Monthly average"}}},
{"transform":[{"filter":"(datum.k=='lo'||datum.k=='hi')&&datum.v!=null"}],"mark":"rule","encoding":{"x":{"datum":0},"x2":{"datum":24},"strokeDash":{"datum":"68% interval"}}}]},
{"title":"(l)","width":336,"height":166,"transform":[{"filter":"datum.p=='l'"}],"encoding":{"x":{"field":"key","type":"quantitative","scale":{"domain":[-1.2,25.2],"nice":false},"axis":{"values":[0,2,4,6,8,10,12,14,16,18,20,22,24],"labelExpr":"utcFormat(datum.value*3600000,'%H:%M')"},"title":"Time of day"},"y":{"field":"v","type":"quantitative","scale":{"domain":[-5,104.2],"nice":false},"title":"Capacity utilization factor [%]"}},
"layer":[
{"transform":[{"filter":"datum.k<'a'"}],"mark":{"type":"line","stroke":"#999","strokeWidth":0.8,"opacity":0.65},"encoding":{"detail":{"field":"k"}}},
{"transform":[{"filter":"datum.k=='m'"}],"mark":"line","encoding":{"strokeDash":{"datum":"Moving average","scale":{"domain":["Moving average","Monthly average","68% interval"],"range":[[6,2,1.5,2],[1,0],[4,2]]},"legend":{"title":null}}}},
{"transform":[{"filter":"datum.k=='avg'&&datum.v!=null"}],"mark":"rule","encoding":{"x":{"datum":0},"x2":{"datum":24},"strokeDash":{"datum":"Monthly average"}}},
{"transform":[{"filter":"(datum.k=='lo'||datum.k=='hi')&&datum.v!=null"}],"mark":"rule","encoding":{"x":{"datum":0},"x2":{"datum":24},"strokeDash":{"datum":"68% interval"}}}]}
],
"config":{
"view":{"stroke":"#555","strokeWidth":1},
"line":{"interpolate":"monotone","color":"black","strokeWidth":1.3},
"rule":{"color":"black","strokeWidth":1.3},
"axis":{"grid":false,"domain":false,"labelFont":"DejaVu Sans","titleFont":"DejaVu Sans","labelFontSize":7.5,"titleFontSize":7.5,"titleFontWeight":"normal","labelColor":"#222","titleColor":"#222","tickColor":"#333","tickSize":3.5,"tickWidth":0.8,"labelPadding":3,"titlePadding":2},
"axisX":{"labelAngle":-45,"labelPadding":2,"titlePadding":3},
"legend":{"orient":"top-right","offset":2,"padding":4,"fillColor":"rgba(255,255,255,0.85)","strokeColor":"#cccccc","cornerRadius":3,"labelFont":"DejaVu Sans","labelFontSize":7.5,"labelColor":"#111","symbolType":"stroke","symbolSize":256,"symbolStrokeColor":"black","symbolStrokeWidth":1.3,"rowPadding":-5,"labelOffset":5},
"title":{"anchor":"start","frame":"bounds","font":"Liberation Serif","fontSize":32,"fontWeight":"bold","color":"black","baseline":"alphabetic","offset":-18,"dx":-28}
}
}
